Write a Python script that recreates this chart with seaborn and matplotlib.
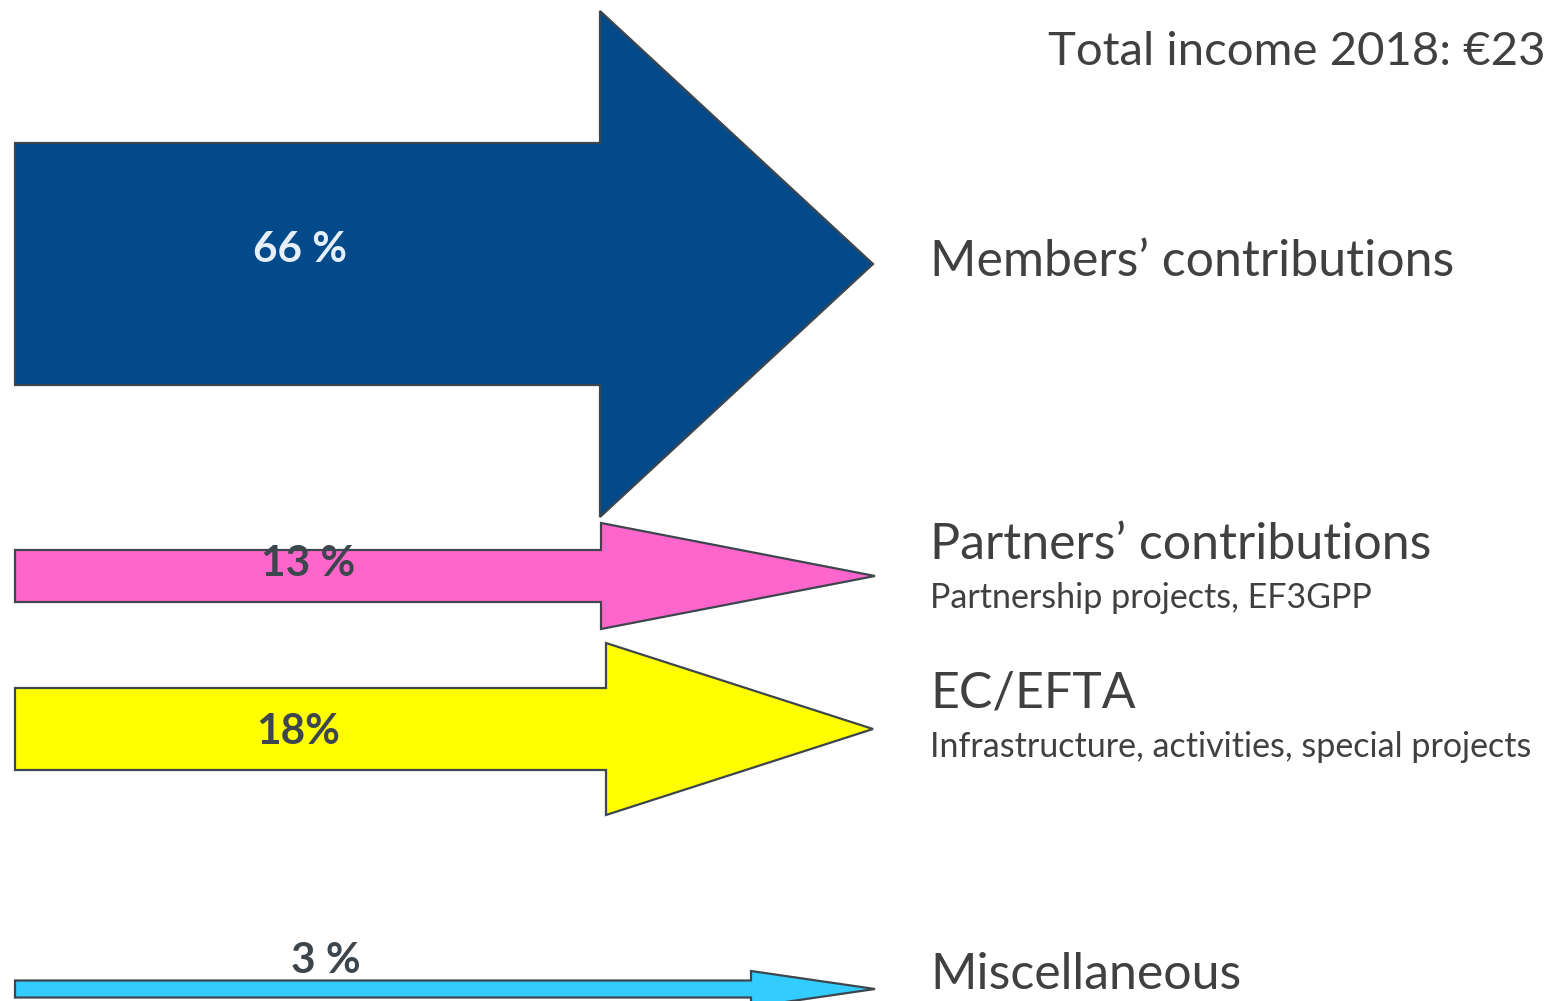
import matplotlib
matplotlib.use("Agg")
import matplotlib.pyplot as plt
import seaborn as sns

# ---- data ----
categories = ["Members\u2019 contributions", "Partners\u2019 contributions", "EC/EFTA", "Miscellaneous"]
subtitles = ["", "Partnership projects, EF3GPP", "Infrastructure, activities, special projects", ""]
shares = [66, 13, 18, 3]
share_labels = ["66 %", "13 %", "18%", "3 %"]
title = "Total income 2018: \u20ac23"

# ---- layout / style ----
colors = ["#034a8b", "#ff66cc", "#ffff00", "#33ccff"]
label_colors = ["#e6eef8", "#3d464d", "#3d464d", "#3d464d"]
y_center = [264, 576, 729, 989]
shaft_half = [121, 26, 41, 8.5]
head_half = [253, 53, 86, 18]
shaft_x0 = 15
head_x = [600, 601, 606, 751]
tip_x = [873, 875, 873, 875]
label_pos = [(300, 250), (308, 564), (298, 732), (326, 961)]
text_y = [262, 545, 694, 975]
sub_y = [None, 598, 747, None]

sns.set_theme(style="white")
plt.rcParams["font.family"] = ["Lato", "DejaVu Sans"]

fig = plt.figure(figsize=(15.47, 10.01), dpi=100)
ax = fig.add_axes([0, 0, 1, 1])
ax.set_xlim(0, 1547)
ax.set_ylim(1001, 0)
ax.axis("off")

edge = "#3d464d"
txt = "#404040"
for i, cat in enumerate(categories):
    yc = y_center[i]
    xs = [shaft_x0, head_x[i], head_x[i], tip_x[i], head_x[i], head_x[i], shaft_x0]
    ys = [yc - shaft_half[i], yc - shaft_half[i], yc - head_half[i], yc,
          yc + head_half[i], yc + shaft_half[i], yc + shaft_half[i]]
    ax.fill(xs, ys, facecolor=colors[i], edgecolor=edge, linewidth=1.6, zorder=2)
    lx, ly = label_pos[i]
    ax.text(lx, ly, share_labels[i], color=label_colors[i], fontsize=30.5, fontweight="bold",
            ha="center", va="center", zorder=3)
    ax.text(930, text_y[i], cat, color=txt, fontsize=36, ha="left", va="center")
    if subtitles[i]:
        ax.text(930, sub_y[i], subtitles[i], color=txt, fontsize=24.5, ha="left", va="center")

ax.text(1545, 52, title, color=txt, fontsize=34, ha="right", va="center")

fig.savefig("out.png", dpi=100)
